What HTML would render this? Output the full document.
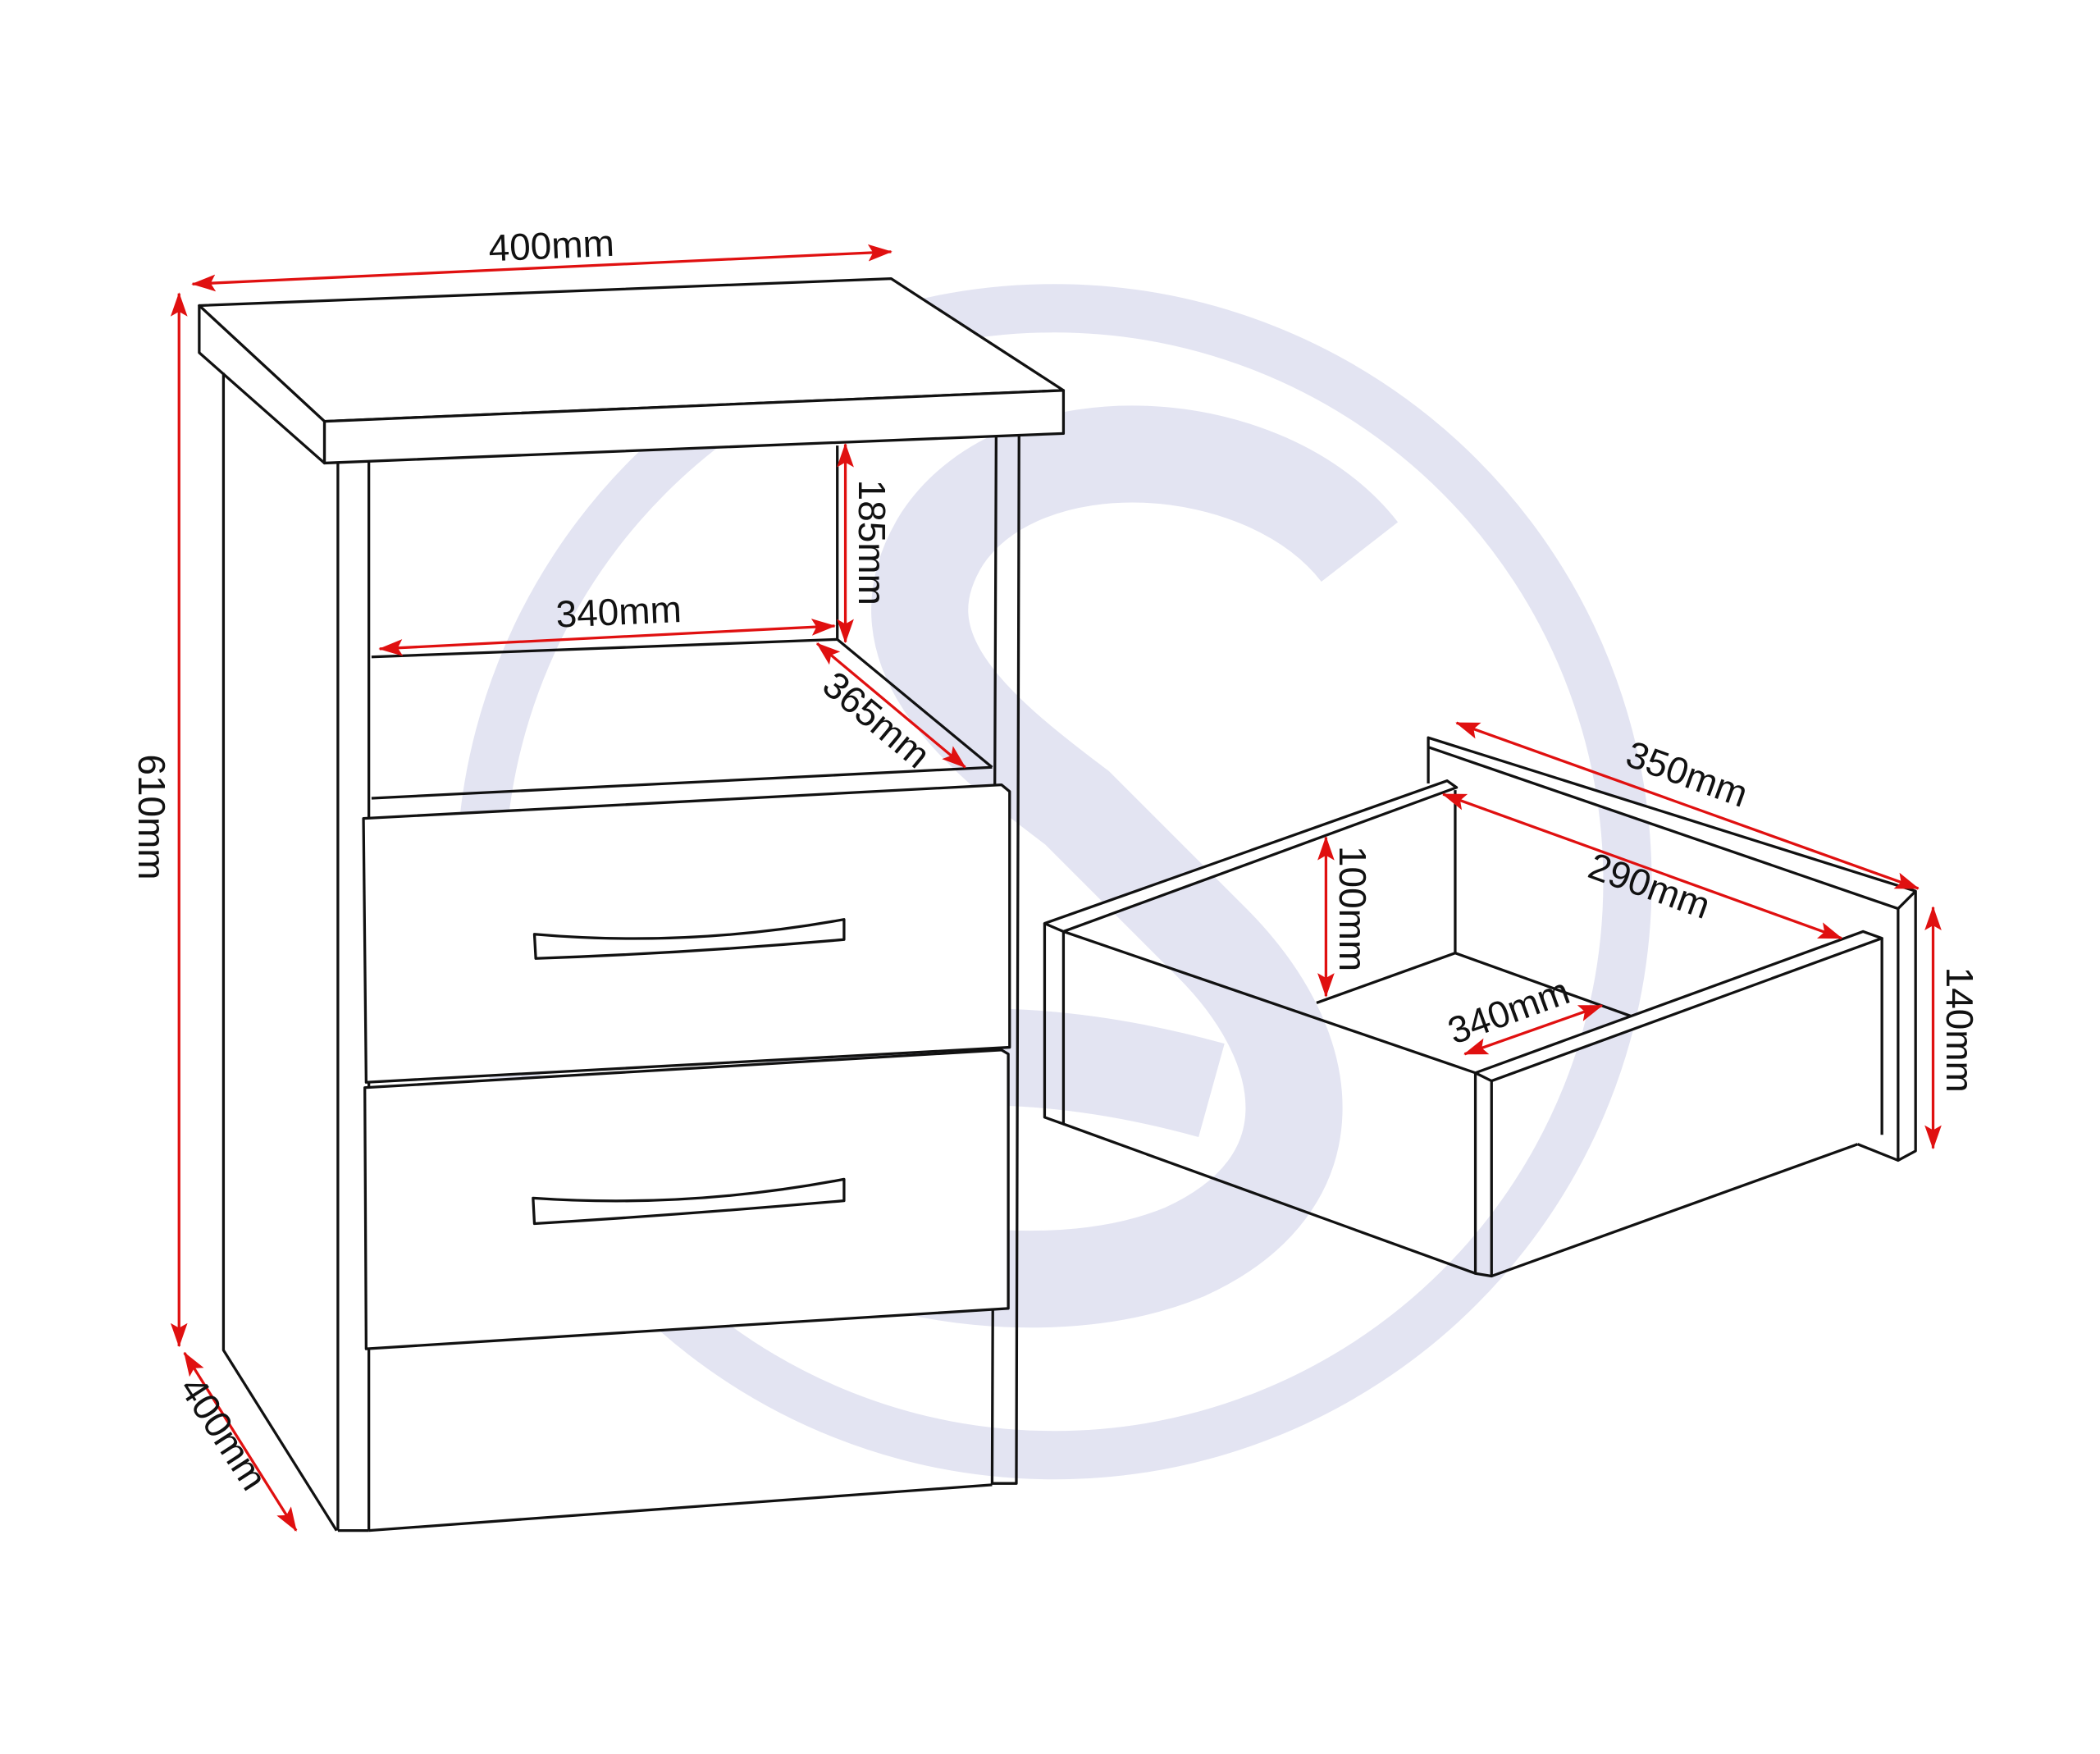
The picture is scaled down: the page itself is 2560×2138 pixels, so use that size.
<!DOCTYPE html>
<html><head><meta charset="utf-8"><style>html,body{margin:0;padding:0;background:#fff}svg{display:block}</style></head>
<body>
<svg width="2560" height="2138" viewBox="0 0 1560 1303" preserveAspectRatio="none" xmlns="http://www.w3.org/2000/svg">
<defs>
<marker id="a" viewBox="0 0 20 14" refX="19" refY="7" markerWidth="18" markerHeight="13" orient="auto-start-reverse" markerUnits="userSpaceOnUse">
<path d="M0,0 L20,7 L0,14 L4,7 Z" fill="#e01010"/></marker>
</defs>
<rect width="1560" height="1303" fill="#fff"/>
<g fill="none" stroke="#e3e4f2">
<circle cx="783" cy="655" r="426" stroke-width="36"/>
<path d="M1010,410 C940,320 760,310 700,400 C650,480 720,540 800,600 L900,700 C980,780 990,880 880,930 C760,980 560,930 565,860 C570,790 720,760 900,810" stroke-width="72"/>
</g>
<g fill="none" stroke="#111" stroke-width="2" stroke-linejoin="round">
<polygon points="148,227 662,207 790,290 241,313" fill="#fff"/>
<polygon points="241,313 790,290 790,322 241,344" fill="#fff"/>
<polygon points="148,227 148,262 241,344 241,313" fill="#fff"/>
<polyline points="166,277 166,1003 250,1137"/>
<line x1="251" y1="344" x2="251" y2="1137"/>
<line x1="274" y1="343" x2="274" y2="1137"/>
<line x1="251" y1="1137" x2="274" y2="1137"/>
<line x1="274" y1="1137" x2="737" y2="1103"/>
<polyline points="740,324 737,1102 755,1102 757,323"/>
<line x1="622" y1="331" x2="622" y2="475"/>
<line x1="276" y1="488" x2="622" y2="475"/>
<line x1="622" y1="475" x2="737" y2="570"/>
<line x1="276" y1="593" x2="737" y2="570"/>
<polygon points="270,608 744,583 750,588 750,778 272,804" fill="#fff"/>
<polygon points="271,808 744,780 749,783 749,972 272,1002" fill="#fff"/>
<path d="M397,694 Q512,704 627,683 L627,698 Q512,708 398,712 Z"/>
<path d="M396,890 Q512,898 627,876 L627,892 Q512,902 397,909 Z"/>
<polygon points="1061,548 1423,662 1423,855 1410,862 1410,675 1061,555" fill="#fff"/>
<line x1="1410" y1="675" x2="1423" y2="662"/>
<line x1="1380" y1="850" x2="1410" y2="862"/>
<line x1="1061" y1="555" x2="1061" y2="582"/>
<polygon points="776,686 1075,580 1082,585 790,692" fill="#fff"/>
<line x1="1081" y1="587" x2="1081" y2="708"/>
<polyline points="978,745 1081,708 1212,755"/>
<polyline points="776,686 776,830 790,835 790,692"/>
<line x1="790" y1="692" x2="1096" y2="797"/>
<line x1="790" y1="835" x2="1096" y2="946"/>
<polygon points="1096,797 1384,692 1398,697 1108,803" fill="#fff"/>
<polyline points="1096,797 1096,946 1108,948 1108,803"/>
<line x1="1398" y1="697" x2="1398" y2="843"/>
<line x1="1108" y1="948" x2="1380" y2="850"/>
</g>
<g stroke="#e01010" stroke-width="2" marker-start="url(#a)" marker-end="url(#a)">
<line x1="143" y1="211" x2="662" y2="187"/>
<line x1="133" y1="218" x2="133" y2="1000"/>
<line x1="137" y1="1005" x2="220" y2="1137"/>
<line x1="628" y1="330" x2="628" y2="477"/>
<line x1="282" y1="482" x2="620" y2="465"/>
<line x1="607" y1="478" x2="717" y2="570"/>
<line x1="1082" y1="537" x2="1425" y2="660"/>
<line x1="1072" y1="590" x2="1368" y2="697"/>
<line x1="985" y1="622" x2="985" y2="740"/>
<line x1="1088" y1="783" x2="1190" y2="747"/>
<line x1="1436" y1="674" x2="1436" y2="853"/>
</g>
<g font-family="Liberation Sans, sans-serif" font-size="28" fill="#111" text-anchor="middle">
<text transform="translate(410,192) rotate(-2.5)">400mm</text>
<text transform="translate(103,607) rotate(90)">610mm</text>
<text transform="translate(158,1070) rotate(57)">400mm</text>
<text transform="translate(638,403) rotate(90)">185mm</text>
<text transform="translate(460,464) rotate(-2.5)">340mm</text>
<text transform="translate(645,542) rotate(40)">365mm</text>
<text transform="translate(1250,584) rotate(20)">350mm</text>
<text transform="translate(1222,667) rotate(20)">290mm</text>
<text transform="translate(995,675) rotate(90)">100mm</text>
<text transform="translate(1124,760) rotate(-20)">340mm</text>
<text transform="translate(1446,765) rotate(90)">140mm</text>
</g>
</svg>
</body></html>
